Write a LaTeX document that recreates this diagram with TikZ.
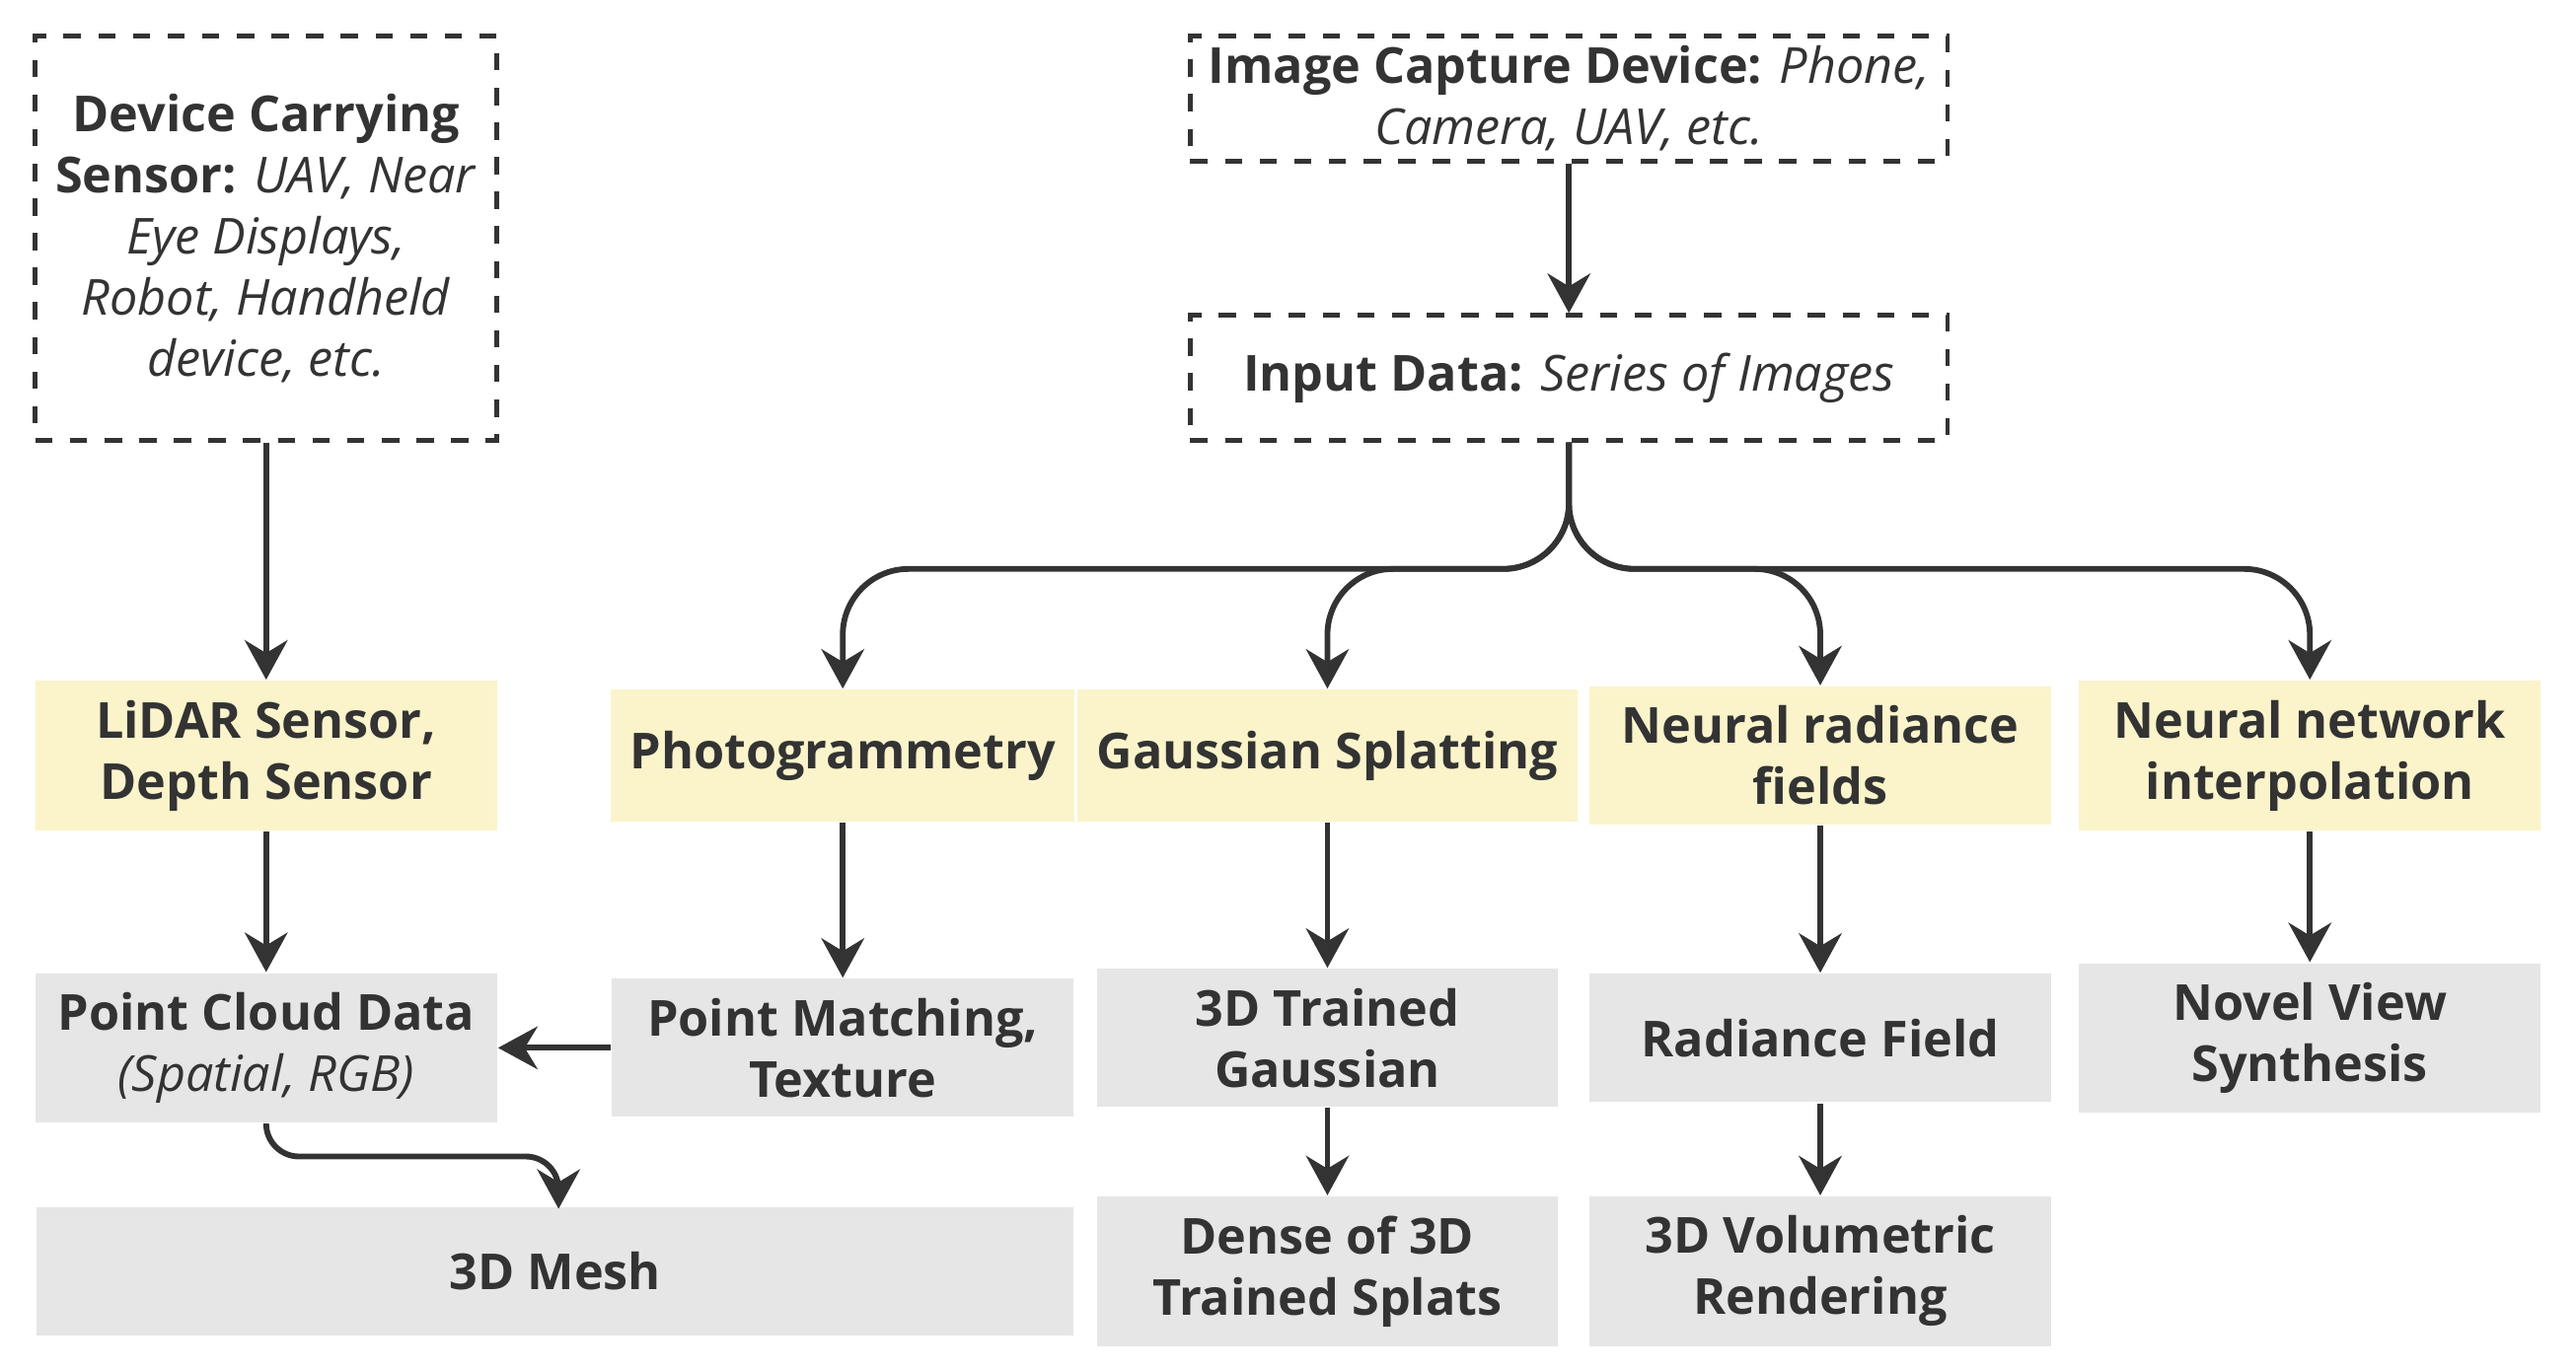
\documentclass[tikz,border=0pt]{standalone}
\usepackage{fontspec}
\setmainfont{Open Sans}
\usetikzlibrary{arrows.meta, positioning}
\definecolor{yel}{HTML}{FBF4CB}
\definecolor{gry}{HTML}{E6E6E6}
\definecolor{ink}{HTML}{333333}
\tikzset{
x=0.1mm, y=-0.1mm, % one unit per reference pixel
font=\fontsize{8.6}{10.6}\selectfont,
}
\tikzstyle{source} = [rectangle, draw=ink, dashed, line width=0.8pt, text=ink, align=center, inner sep=1pt]
\tikzstyle{method} = [rectangle, fill=yel, text=ink, align=center, minimum width=28.1mm, minimum height=8mm, font=\fontsize{8.6}{10.6}\selectfont\bfseries]
\tikzstyle{result} = [rectangle, fill=gry, text=ink, align=center, minimum width=28.1mm, minimum height=7.8mm, font=\fontsize{8.6}{10.6}\selectfont\bfseries]
\tikzstyle{arrow} = [draw=ink, line width=1pt, -{Stealth[length=2.4mm,width=2.6mm]}]

\begin{document}
\begin{tikzpicture}
\useasboundingbox (0,0) rectangle (1568,834);
% sources
\node [source, minimum width=28.1mm, minimum height=24.6mm] (dev) at (162,145) {\textbf{Device Carrying}\\\textbf{Sensor:} \textit{UAV, Near}\\\textit{Eye Displays,}\\\textit{Robot, Handheld}\\\textit{device, etc.}};
\node [source, minimum width=46.1mm, minimum height=7.6mm] (cam) at (955,60) {\textbf{Image Capture Device:} \textit{Phone,}\\\textit{Camera, UAV, etc.}};
\node [source, minimum width=46.1mm, minimum height=7.6mm] (input) at (955,230) {\textbf{Input Data:} \textit{Series of Images}};
% methods
\node [method] (lidar) at (162,460) {LiDAR Sensor,\\Depth Sensor};
\node [method] (photo) at (513,460) {Photogrammetry};
\node [method] (gauss) at (808,460) {Gaussian Splatting};
\node [method] (nerf) at (1108,460) {Neural radiance\\fields};
\node [method] (nni) at (1406,460) {Neural network\\interpolation};
% results
\node [result, minimum height=8mm] (cloud) at (162,638) {Point Cloud Data\\\textmd{\textit{(Spatial, RGB)}}};
\node [result, minimum height=8mm] (match) at (513,638) {Point Matching,\\Texture};
\node [result] (trained) at (808,632) {3D Trained\\Gaussian};
\node [result] (field) at (1108,632) {Radiance Field};
\node [result] (novel) at (1406,632) {Novel View\\Synthesis};
\node [result, minimum width=63.1mm] (mesh) at (338,774) {3D Mesh};
\node [result] (dense) at (808,774) {Dense of 3D\\Trained Splats};
\node [result] (vol) at (1108,774) {3D Volumetric\\Rendering};

\path [arrow] (cam) -- (input);
\path [arrow] (dev) -- (lidar);
\path [arrow, rounded corners=4mm] (input.south) -- ++(0,77) -| (photo);
\path [arrow, rounded corners=4mm] (input.south) -- ++(0,77) -| (gauss);
\path [arrow, rounded corners=4mm] (input.south) -- ++(0,77) -| (nerf);
\path [arrow, rounded corners=4mm] (input.south) -- ++(0,77) -| (nni);
\path [arrow] (lidar) -- (cloud);
\path [arrow] (photo) -- (match);
\path [arrow] (gauss) -- (trained);
\path [arrow] (nerf) -- (field);
\path [arrow] (nni) -- (novel);
\path [arrow] (match) -- (cloud);
\path [arrow, rounded corners=2mm] (cloud.south) -- ++(0,20) -| (340,736);
\path [arrow] (trained) -- (dense);
\path [arrow] (field) -- (vol);
\end{tikzpicture}
\end{document}
